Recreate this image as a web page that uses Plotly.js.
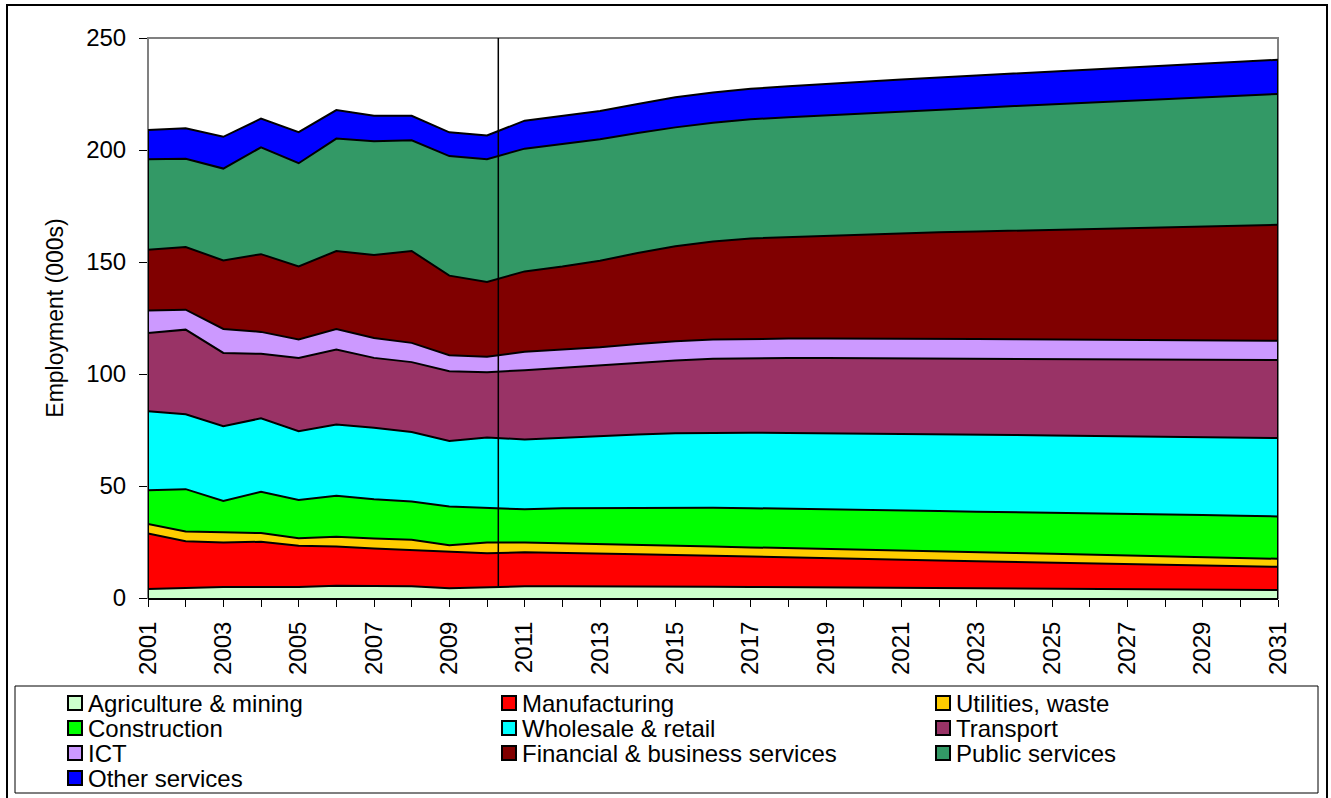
<!DOCTYPE html>
<html>
<head>
<meta charset="utf-8">
<script src="https://cdn.plot.ly/plotly-3.0.1.min.js"></script>
<style>
  html, body { margin: 0; padding: 0; background: #ffffff; }
  #chart { width: 1331px; height: 798px; }
</style>
</head>
<body>
<div id="chart"></div>
<script>
// ---- Data (employment, thousands) ----
const years = [2001,2002,2003,2004,2005,2006,2007,2008,2009,2010,2011,2012,2013,2014,2015,2016,2017,2018,2019,2020,2021,2022,2023,2024,2025,2026,2027,2028,2029,2030,2031];
const tickLabels = ['2001','','2003','','2005','','2007','','2009','','2011','','2013','','2015','','2017','','2019','','2021','','2023','','2025','','2027','','2029','','2031'];

const agriculture   = [4.0,4.6,4.9,4.9,4.9,5.5,5.2,5.2,4.3,4.9,5.2,5.3,5.3,5.2,5.1,5.0,4.9,4.8,4.7,4.6,4.5,4.4,4.3,4.2,4.1,4.0,3.9,3.8,3.7,3.7,3.6];
const manufacturing = [24.8,20.7,19.9,20.2,18.4,17.5,16.9,16.2,16.1,15.1,15.2,14.7,14.4,14.3,14.1,13.8,13.7,13.3,13.0,12.8,12.5,12.3,12.1,11.9,11.7,11.5,11.3,11.1,10.8,10.5,10.3];
const utilities     = [4.2,4.4,4.5,3.9,3.4,4.3,4.5,4.6,3.2,4.8,4.4,4.5,4.4,4.1,4.1,4.2,4.0,4.1,4.1,4.0,4.0,4.0,4.0,4.0,4.0,3.9,3.8,3.8,3.8,3.7,3.6];
const construction  = [15.1,18.9,14.0,18.4,17.1,18.3,17.5,17.1,17.2,15.4,14.8,15.6,16.1,16.8,17.1,17.3,17.5,17.7,17.8,17.9,18.0,18.1,18.1,18.2,18.2,18.4,18.5,18.5,18.7,18.8,18.9];
const wholesale     = [35.3,33.4,33.4,32.8,30.7,31.9,31.9,31.0,29.3,31.4,31.2,31.5,32.1,32.6,33.1,33.5,33.7,33.8,34.0,34.2,34.3,34.3,34.5,34.5,34.6,34.6,34.7,34.8,34.8,34.9,35.0];
const transport     = [34.9,37.8,32.7,28.8,32.7,33.4,31.2,31.2,31.1,29.2,30.9,31.2,31.5,32.0,32.5,33.0,33.3,33.4,33.5,33.5,33.6,33.8,33.8,34.0,34.1,34.2,34.3,34.5,34.6,34.7,34.8];
const ict           = [10.0,8.9,10.7,9.8,8.2,9.2,8.9,8.6,7.2,6.9,8.2,8.1,8.1,8.4,8.6,8.6,8.6,8.7,8.8,8.9,8.9,8.8,8.8,8.7,8.7,8.7,8.7,8.6,8.6,8.6,8.6];
const financial     = [27.2,28.0,30.6,34.7,32.6,34.8,37.0,41.0,35.5,33.4,35.9,37.1,38.7,40.6,42.4,43.8,44.8,45.3,45.8,46.4,47.1,47.6,48.0,48.5,49.0,49.5,49.9,50.4,50.9,51.3,51.8];
const publicServices= [40.4,39.4,41.0,47.7,46.1,50.2,50.8,49.4,53.4,54.8,54.8,54.7,54.2,53.6,53.1,53.0,53.2,53.5,53.8,54.0,54.3,54.7,55.2,55.6,56.0,56.3,56.8,57.2,57.6,58.0,58.4];
const otherServices = [13.0,13.6,14.2,12.8,13.9,12.7,11.4,11.0,10.6,10.6,12.5,12.4,12.6,12.9,13.4,13.5,13.6,13.9,14.1,14.3,14.3,14.4,14.5,14.6,14.7,14.9,14.9,15.0,15.1,15.2,15.3];

const seriesNames = ['Agriculture & mining','Manufacturing','Utilities, waste','Construction','Wholesale & retail','Transport','ICT','Financial & business services','Public services','Other services'];
const seriesValues = [agriculture, manufacturing, utilities, construction, wholesale, transport, ict, financial, publicServices, otherServices];
const forecastStart = 2010.3;

// ---- Styles ----
const colors = ['#CCFFCC','#FF0000','#FFCC00','#00FF00','#00FFFF','#993366','#CC99FF','#800000','#339966','#0000FF'];
const FONT = 'Liberation Sans, Arial, Helvetica, sans-serif';

const traces = seriesNames.map((name, i) => ({
  type: 'scatter',
  mode: 'lines',
  name: name,
  x: years,
  y: seriesValues[i],
  stackgroup: 'one',
  fillcolor: colors[i],
  line: { color: '#000000', width: 2 },
  showlegend: false,
  hoverinfo: 'x+y+name'
}));

// Layout geometry (pixels)
const W = 1331, H = 798;
const M = { l: 148, r: 53, t: 38, b: 200 };
const pw = W - M.l - M.r, ph = H - M.t - M.b;
const px = v => (v - M.l) / pw;
const py = v => (H - M.b - v) / ph;

const totals = years.map((_, k) => seriesValues.reduce((s, arr) => s + arr[k], 0));

const shapes = [
  // plot frame (gray)
  { type: 'rect', xref: 'paper', yref: 'paper', x0: 0, x1: 1, y0: 0, y1: 1,
    line: { color: '#808080', width: 2 }, layer: 'below' },
  // area outline edges at the first and last year
  { type: 'line', xref: 'x', yref: 'y', x0: years[0], x1: years[0], y0: 0, y1: totals[0],
    line: { color: '#000000', width: 2 } },
  { type: 'line', xref: 'x', yref: 'y', x0: years[years.length-1], x1: years[years.length-1], y0: 0, y1: totals[totals.length-1],
    line: { color: '#000000', width: 2 } },
  // forecast divider
  { type: 'line', xref: 'x', yref: 'y', x0: forecastStart, x1: forecastStart, y0: 5.2, y1: 250,
    line: { color: '#000000', width: 1.5 } },
  // outer chart border
  { type: 'rect', xref: 'paper', yref: 'paper', x0: px(7), x1: px(1327), y0: py(820), y1: py(5),
    line: { color: '#000000', width: 2 } },
  // legend box
  { type: 'rect', xref: 'paper', yref: 'paper', x0: px(15), x1: px(1318), y0: py(793), y1: py(686),
    line: { color: '#000000', width: 1 }, fillcolor: 'rgba(0,0,0,0)' }
];

const annotations = [];
seriesNames.forEach((name, i) => {
  const col = i % 3, row = Math.floor(i / 3);
  const tx = 88 + col * 434;
  const ty = 703 + row * 25;
  shapes.push({ type: 'rect', xref: 'paper', yref: 'paper',
    x0: px(tx - 20), x1: px(tx - 6), y0: py(ty + 7), y1: py(ty - 7),
    fillcolor: colors[i], line: { color: '#000000', width: 2 } });
  annotations.push({ xref: 'paper', yref: 'paper', x: px(tx - 2), y: py(ty),
    xanchor: 'left', yanchor: 'middle', showarrow: false, text: name,
    font: { family: FONT, size: 24, color: '#000000' } });
});

const layout = {
  width: W, height: H,
  margin: M,
  paper_bgcolor: '#ffffff',
  plot_bgcolor: '#ffffff',
  font: { family: FONT, color: '#000000' },
  showlegend: false,
  xaxis: {
    range: [years[0], years[years.length-1]],
    tickmode: 'array', tickvals: years, ticktext: tickLabels,
    tickangle: -90,
    ticks: 'outside', ticklen: 7, tickwidth: 1, tickcolor: '#000000',
    ticklabelstandoff: 5,
    showline: true, linecolor: '#000000', linewidth: 2,
    showgrid: false, zeroline: false,
    tickfont: { family: FONT, size: 24, color: '#000000' },
    fixedrange: true
  },
  yaxis: {
    range: [0, 250], tickmode: 'linear', tick0: 0, dtick: 50,
    ticks: 'outside', ticklen: 8, tickwidth: 1, tickcolor: '#000000',
    ticklabelstandoff: 8,
    showline: false, showgrid: false, zeroline: false,
    tickfont: { family: FONT, size: 24, color: '#000000' },
    title: { text: 'Employment (000s)', standoff: 16, font: { family: FONT, size: 23, color: '#000000' } },
    fixedrange: true
  },
  shapes: shapes,
  annotations: annotations
};

Plotly.newPlot('chart', traces, layout, { displayModeBar: false, staticPlot: true });
</script>
</body>
</html>
